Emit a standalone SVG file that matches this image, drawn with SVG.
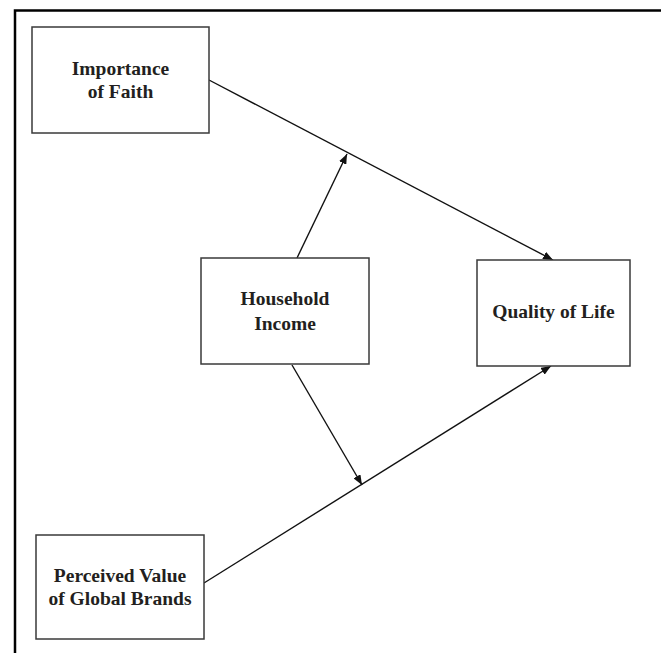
<svg xmlns="http://www.w3.org/2000/svg" width="661" height="653" viewBox="0 0 661 653">
<style>
.box{fill:#fff;stroke:#3a3a3a;stroke-width:1.5}
.lbl{font-family:"Liberation Serif","Times New Roman",serif;font-weight:bold;font-size:19.5px;fill:#231f20;text-anchor:middle}
.con{stroke:#111;stroke-width:1.4;fill:none}
</style>
<defs>
<marker id="ah" viewBox="0 0 10 8" refX="10" refY="4" markerWidth="10" markerHeight="8" markerUnits="userSpaceOnUse" orient="auto">
<path d="M0,0 L10,4 L0,8 z" fill="#111"/>
</marker>
</defs>
<rect width="661" height="653" fill="#fff"/>
<g id="frame">
<path d="M15,653 V10.5 H661" fill="none" stroke="#000" stroke-width="2.5"/>
</g>
<g id="connectors">
<line class="con" x1="209" y1="80" x2="553" y2="260" marker-end="url(#ah)"/>
<line class="con" x1="204" y1="583" x2="551" y2="366" marker-end="url(#ah)"/>
<line class="con" x1="297" y1="258" x2="347" y2="154" marker-end="url(#ah)"/>
<line class="con" x1="292" y1="365" x2="362" y2="485" marker-end="url(#ah)"/>
</g>
<g id="faith">
<rect class="box" x="32" y="27" width="177" height="106"/>
<text class="lbl" x="120.5" y="75">Importance</text>
<text class="lbl" x="120.5" y="98">of Faith</text>
</g>
<g id="income">
<rect class="box" x="201" y="258" width="168" height="106"/>
<text class="lbl" x="285" y="305">Household</text>
<text class="lbl" x="285" y="330">Income</text>
</g>
<g id="quality">
<rect class="box" x="477" y="260" width="153" height="106"/>
<text class="lbl" x="553.5" y="318">Quality of Life</text>
</g>
<g id="brands">
<rect class="box" x="36" y="535" width="168" height="104"/>
<text class="lbl" x="120" y="582">Perceived Value</text>
<text class="lbl" x="120" y="605">of Global Brands</text>
</g>
</svg>
